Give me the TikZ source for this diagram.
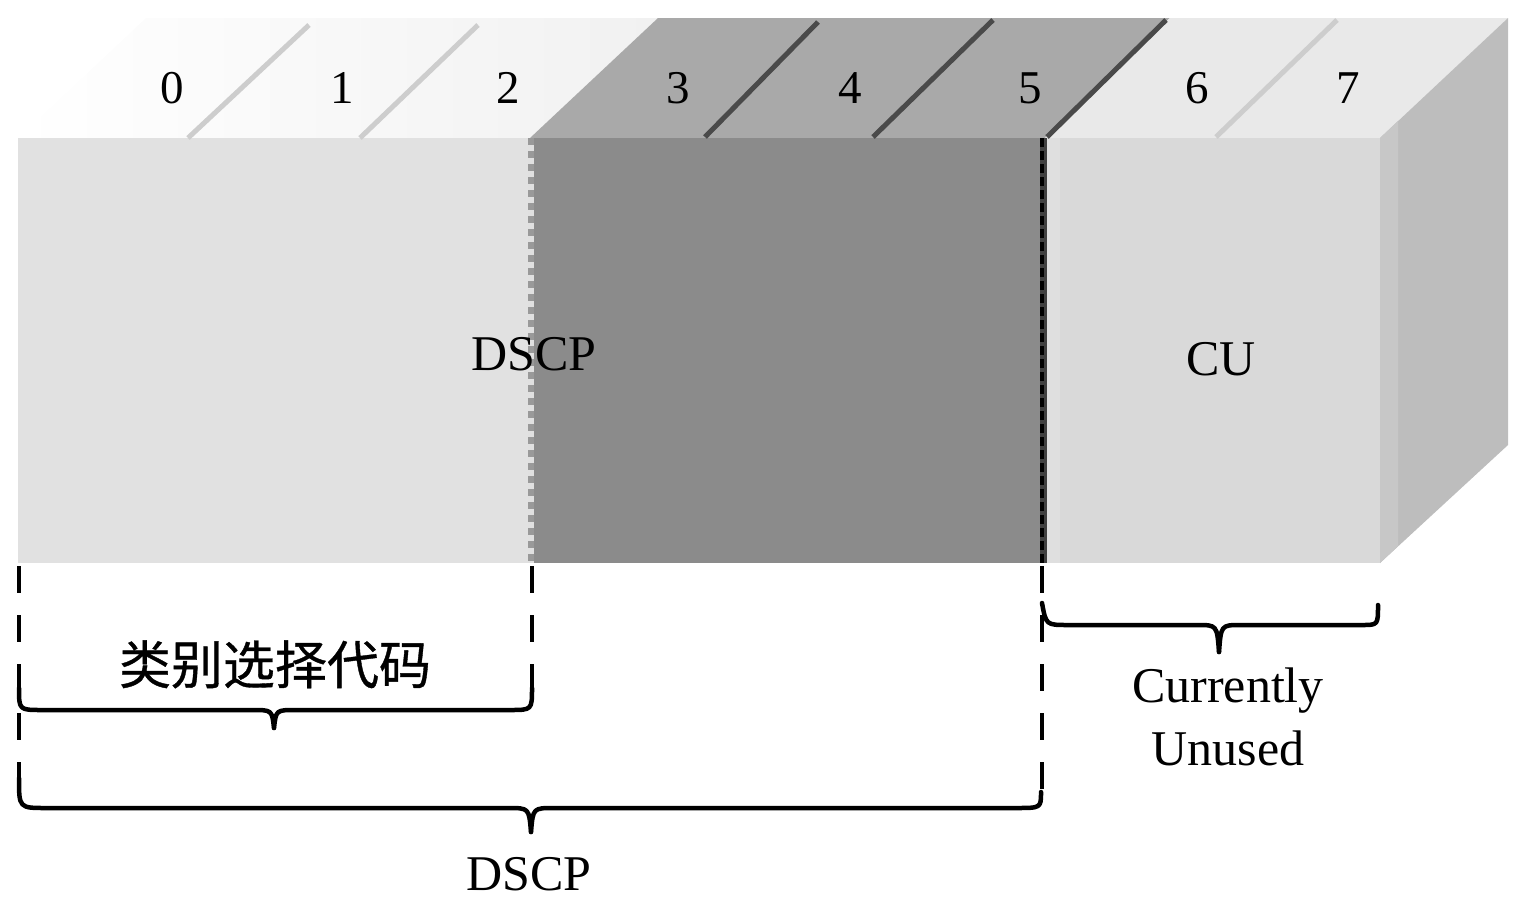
\documentclass[tikz,border=0pt]{standalone}
\usepackage{fontspec}
\setmainfont{Liberation Serif}
\newfontfamily\cjk[FakeBold=0.7]{Noto Sans CJK SC}
\definecolor{topL}{HTML}{F1F1F1}
\definecolor{frontL}{HTML}{E1E1E1}
\definecolor{topD}{HTML}{A9A9A9}
\definecolor{frontD}{HTML}{8B8B8B}
\definecolor{topR}{HTML}{E9E9E9}
\definecolor{frontR}{HTML}{D9D9D9}
\definecolor{sideR}{HTML}{BDBDBD}
\definecolor{divL}{HTML}{CDCDCD}
\definecolor{divD}{HTML}{4A4A4A}
\begin{document}
\begin{tikzpicture}[x=1pt,y=-1pt,
  lbl/.style={inner sep=0pt, anchor=base, font=\fontsize{50}{60}\selectfont},
  dig/.style={inner sep=0pt, anchor=base, font=\fontsize{47}{56}\selectfont},
  cjklbl/.style={inner sep=0pt, anchor=base, font=\cjk\fontsize{52}{60}\selectfont},
  bracepath/.style={line width=4.5pt, line cap=round, line join=round},
  vdash/.style={line width=4.5pt, dash pattern=on 27pt off 22pt},
  divlight/.style={line width=5pt, divL},
  divdark/.style={line width=5pt, divD}]
\useasboundingbox (0,0) rectangle (1536,919);

% ---- top face ----
\shade[left color=white, right color=topL] (18,138) -- (146,18) -- (658,18) -- (530,138) -- cycle;
\fill[topD] (530,138) -- (658,18) -- (1170,18) -- (1045,138) -- cycle;
\fill[topR] (1045,138) -- (1170,18) -- (1508,18) -- (1380,138) -- cycle;
% ---- side face ----
\fill[sideR] (1380,138) -- (1508,18) -- (1508,445) -- (1380,563) -- cycle;
\fill[sideR!85!white] (1380,138) -- (1398,121) -- (1398,546) -- (1380,563) -- cycle;
% ---- front face ----
\fill[frontL] (18,138) rectangle (530,563);
\fill[frontD] (530,138) rectangle (1045,563);
\fill[frontR] (1045,138) rectangle (1380,563);
\fill[frontR!85!white] (1045,138) rectangle (1060,563);

% ---- dividers on top face ----
\draw[divlight] (188,138) -- (309,25);
\draw[divlight] (360,138) -- (478,25);
\draw[divdark] (705,137) -- (818,22);
\draw[divdark] (873,137) -- (993,20);
\draw[divdark] (1047,137) -- (1166,20);
\draw[divlight] (1216,137) -- (1337,20);

% ---- boundary lines inside the front face ----
\draw[line width=6pt, white!88!black] (531,138) -- (531,563);
\draw[line width=6pt, white!60!black, dash pattern=on 7pt off 6pt] (531,138) -- (531,563);
\draw[line width=7pt, black!75] (1043,138) -- (1043,563);
\draw[line width=4pt, black, dash pattern=on 9pt off 4pt] (1042,138) -- (1042,563);

% ---- bit numbers ----
\node[dig] (b0) at (172,103) {0};
\node[dig] (b1) at (342,103) {1};
\node[dig] (b2) at (508,103) {2};
\node[dig] (b3) at (678,103) {3};
\node[dig] (b4) at (850,103) {4};
\node[dig] (b5) at (1030,103) {5};
\node[dig] (b6) at (1197,103) {6};
\node[dig] (b7) at (1348,103) {7};

% ---- labels on the front ----
\node[lbl] (dscpf) at (534,370) {DSCP};
\node[lbl] (cuf) at (1221,375) {CU};

% ---- dashed guides below ----
\coordinate (gL1) at (19,566);
\coordinate (gL2) at (19,785);
\coordinate (gM1) at (532,566);
\coordinate (gM2) at (532,690);
\coordinate (gR1) at (1042,566);
\coordinate (gR2) at (1042,792);
\draw[vdash] (gL1) -- (gL2);
\draw[vdash] (gM1) -- (gM2);
\draw[vdash] (gR1) -- (gR2);

% ---- braces ----
% small brace (bits 0-2)
\draw[bracepath] (19,688) .. controls (19,710) .. (42,710) -- (252,710)
  .. controls (272,710) .. (274,728);
\draw[bracepath] (274,728) .. controls (276,710) .. (296,710) -- (510,710)
  .. controls (532,710) .. (532,688);
% big brace (bits 0-5)
\draw[bracepath] (19,778) .. controls (19,808) .. (46,808) -- (508,808)
  .. controls (529,808) .. (531,832);
\draw[bracepath] (531,832) .. controls (533,808) .. (554,808) -- (1016,808)
  .. controls (1041,808) .. (1041,792);
% CU brace (bits 6-7)
\draw[bracepath] (1042,603) .. controls (1046,625) .. (1068,625) -- (1197,625)
  .. controls (1217,625) .. (1219,652);
\draw[bracepath] (1219,652) .. controls (1221,625) .. (1241,625) -- (1362,625)
  .. controls (1378,625) .. (1378,605);

% ---- labels below ----
\node[cjklbl] (csc) at (275,684) {类别选择代码};
\node[lbl] (dscpb) at (529,890) {DSCP};
\node[lbl] (cur) at (1228,702) {Currently};
\node[lbl] (unu) at (1228,765) {Unused};
\end{tikzpicture}
\end{document}
